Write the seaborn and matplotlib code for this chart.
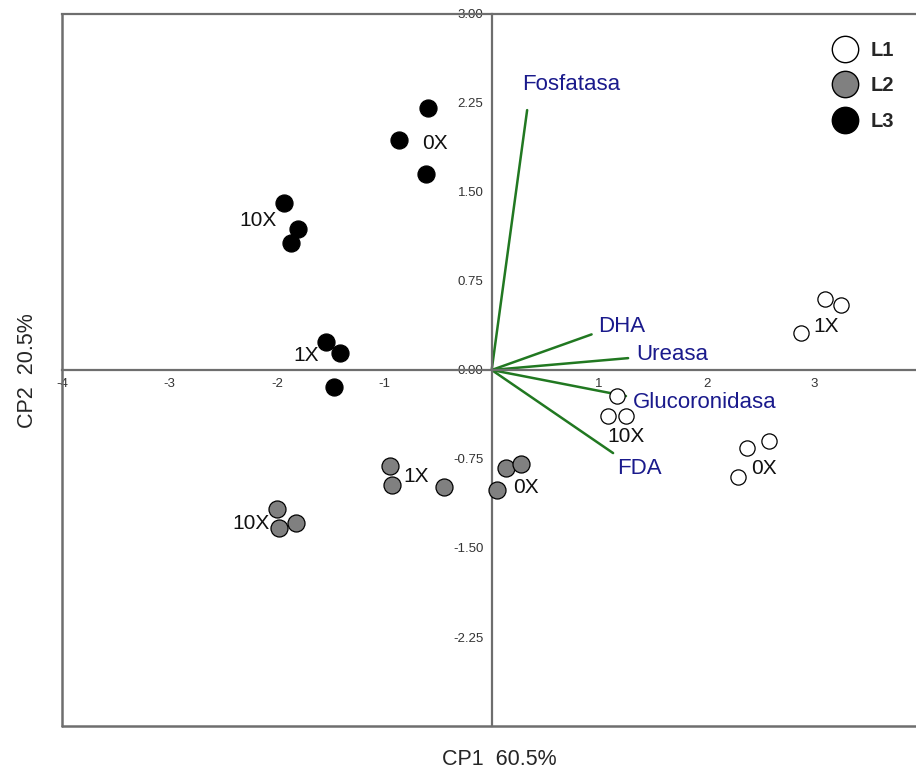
import pandas as pd
import seaborn as sns
import matplotlib.pyplot as plt
from matplotlib.lines import Line2D

# scores
lines = ["L1"] * 9 + ["L2"] * 9 + ["L3"] * 9
dose = ["1X", "1X", "1X", "10X", "10X", "10X", "0X", "0X", "0X",
        "10X", "10X", "10X", "1X", "1X", "1X", "0X", "0X", "0X",
        "0X", "0X", "0X", "10X", "10X", "10X", "1X", "1X", "1X"]
cp1 = [3.10, 3.25, 2.88, 1.17, 1.08, 1.25, 2.38, 2.58, 2.29,
       -2.00, -1.98, -1.82, -0.95, -0.93, -0.44, 0.05, 0.13, 0.27,
       -0.59, -0.86, -0.61, -1.93, -1.80, -1.87, -1.54, -1.41, -1.47]
cp2 = [0.60, 0.55, 0.31, -0.22, -0.39, -0.39, -0.66, -0.60, -0.90,
       -1.17, -1.33, -1.29, -0.81, -0.97, -0.99, -1.01, -0.83, -0.79,
       2.21, 1.94, 1.65, 1.41, 1.19, 1.07, 0.24, 0.14, -0.14]

# group labels
lab_text = ["1X", "10X", "0X", "10X", "1X", "0X", "0X", "10X", "1X"]
lab_x = [3.11, 1.25, 2.53, -2.24, -0.70, 0.32, -0.53, -2.18, -1.73]
lab_y = [0.37, -0.56, -0.83, -1.29, -0.90, -0.99, 1.91, 1.26, 0.12]

# loadings
enzymes = ["Fosfatasa", "DHA", "Ureasa", "Glucoronidasa", "FDA"]
load_x = [0.33, 0.93, 1.27, 1.25, 1.13]
load_y = [2.19, 0.30, 0.10, -0.22, -0.70]
txt_x = [0.28, 0.99, 1.35, 1.31, 1.17]
txt_y = [2.41, 0.37, 0.13, -0.27, -0.83]

df = pd.DataFrame({"CP1": cp1, "CP2": cp2, "Linea": lines})
palette = {"L1": "white", "L2": "#808080", "L3": "black"}
sizes = {"L1": 120, "L2": 150, "L3": 150}

sns.set_style("white")
plt.rcParams["font.family"] = ["Liberation Sans", "DejaVu Sans"]

fig = plt.figure(figsize=(9.16, 7.73), dpi=100)
ax = fig.add_axes([0.0677, 0.0608, 0.9323, 0.9211])

for name, sub in df.groupby("Linea"):
    sns.scatterplot(data=sub, x="CP1", y="CP2", color=palette[name], s=sizes[name],
                    edgecolor="black", linewidth=0.9, ax=ax, zorder=3, legend=False)

for e, x, y, tx, ty in zip(enzymes, load_x, load_y, txt_x, txt_y):
    ax.plot([0, x], [0, y], color="#217821", lw=1.8, zorder=2)
    ax.text(tx, ty, e, color="#1a1a8c", fontsize=16, ha="left", va="center", zorder=4)

for t, x, y in zip(lab_text, lab_x, lab_y):
    ax.text(x, y, t, fontsize=15, ha="center", va="center", color="#111111", zorder=4)

ax.set_xlim(-4, 3.95)
ax.set_ylim(-3, 3)

# axes crossing at zero, box frame kept on left / top / bottom
ax.spines["left"].set_position(("data", 0))
ax.spines["bottom"].set_position(("data", 0))
ax.spines["right"].set_visible(False)
for s in ["left", "bottom", "top"]:
    ax.spines[s].set_color("#6e6e6e")
    ax.spines[s].set_linewidth(1.6)
ax.plot([0, 0], [0, 1], transform=ax.transAxes, color="#6e6e6e", lw=1.8, clip_on=False)
ax.plot([0, 1], [0, 0], transform=ax.transAxes, color="#6e6e6e", lw=1.8, clip_on=False)

ax.set_xticks([-4, -3, -2, -1, 1, 2, 3])
ax.set_xticklabels(["-4", "-3", "-2", "-1", "1", "2", "3"])
ax.set_yticks([-2.25, -1.5, -0.75, 0, 0.75, 1.5, 2.25, 3.0])
ax.set_yticklabels([f"{v:.2f}" for v in [-2.25, -1.5, -0.75, 0, 0.75, 1.5, 2.25, 3.0]])
ax.tick_params(axis="both", labelsize=9.5, colors="#666666", labelcolor="#333333",
               length=4, width=1, direction="out", pad=2)
ax.set_xlabel("")
ax.set_ylabel("")

fig.text(0.545, 0.017, "CP1  60.5%", fontsize=15.5, ha="center", va="center")
fig.text(0.03, 0.52, "CP2  20.5%", fontsize=15.5, ha="center", va="center", rotation=90)

handles = [Line2D([], [], marker="o", ls="", markersize=19, markerfacecolor=palette[k],
                  markeredgecolor="black", markeredgewidth=1) for k in ["L1", "L2", "L3"]]
leg = ax.legend(handles, ["L1", "L2", "L3"], loc="upper right", bbox_to_anchor=(0.993, 0.985),
                frameon=False, prop={"weight": "bold", "size": 14.5}, handletextpad=0.25,
                labelspacing=0.82, borderpad=0.3)

fig.savefig("out.png", dpi=100)
